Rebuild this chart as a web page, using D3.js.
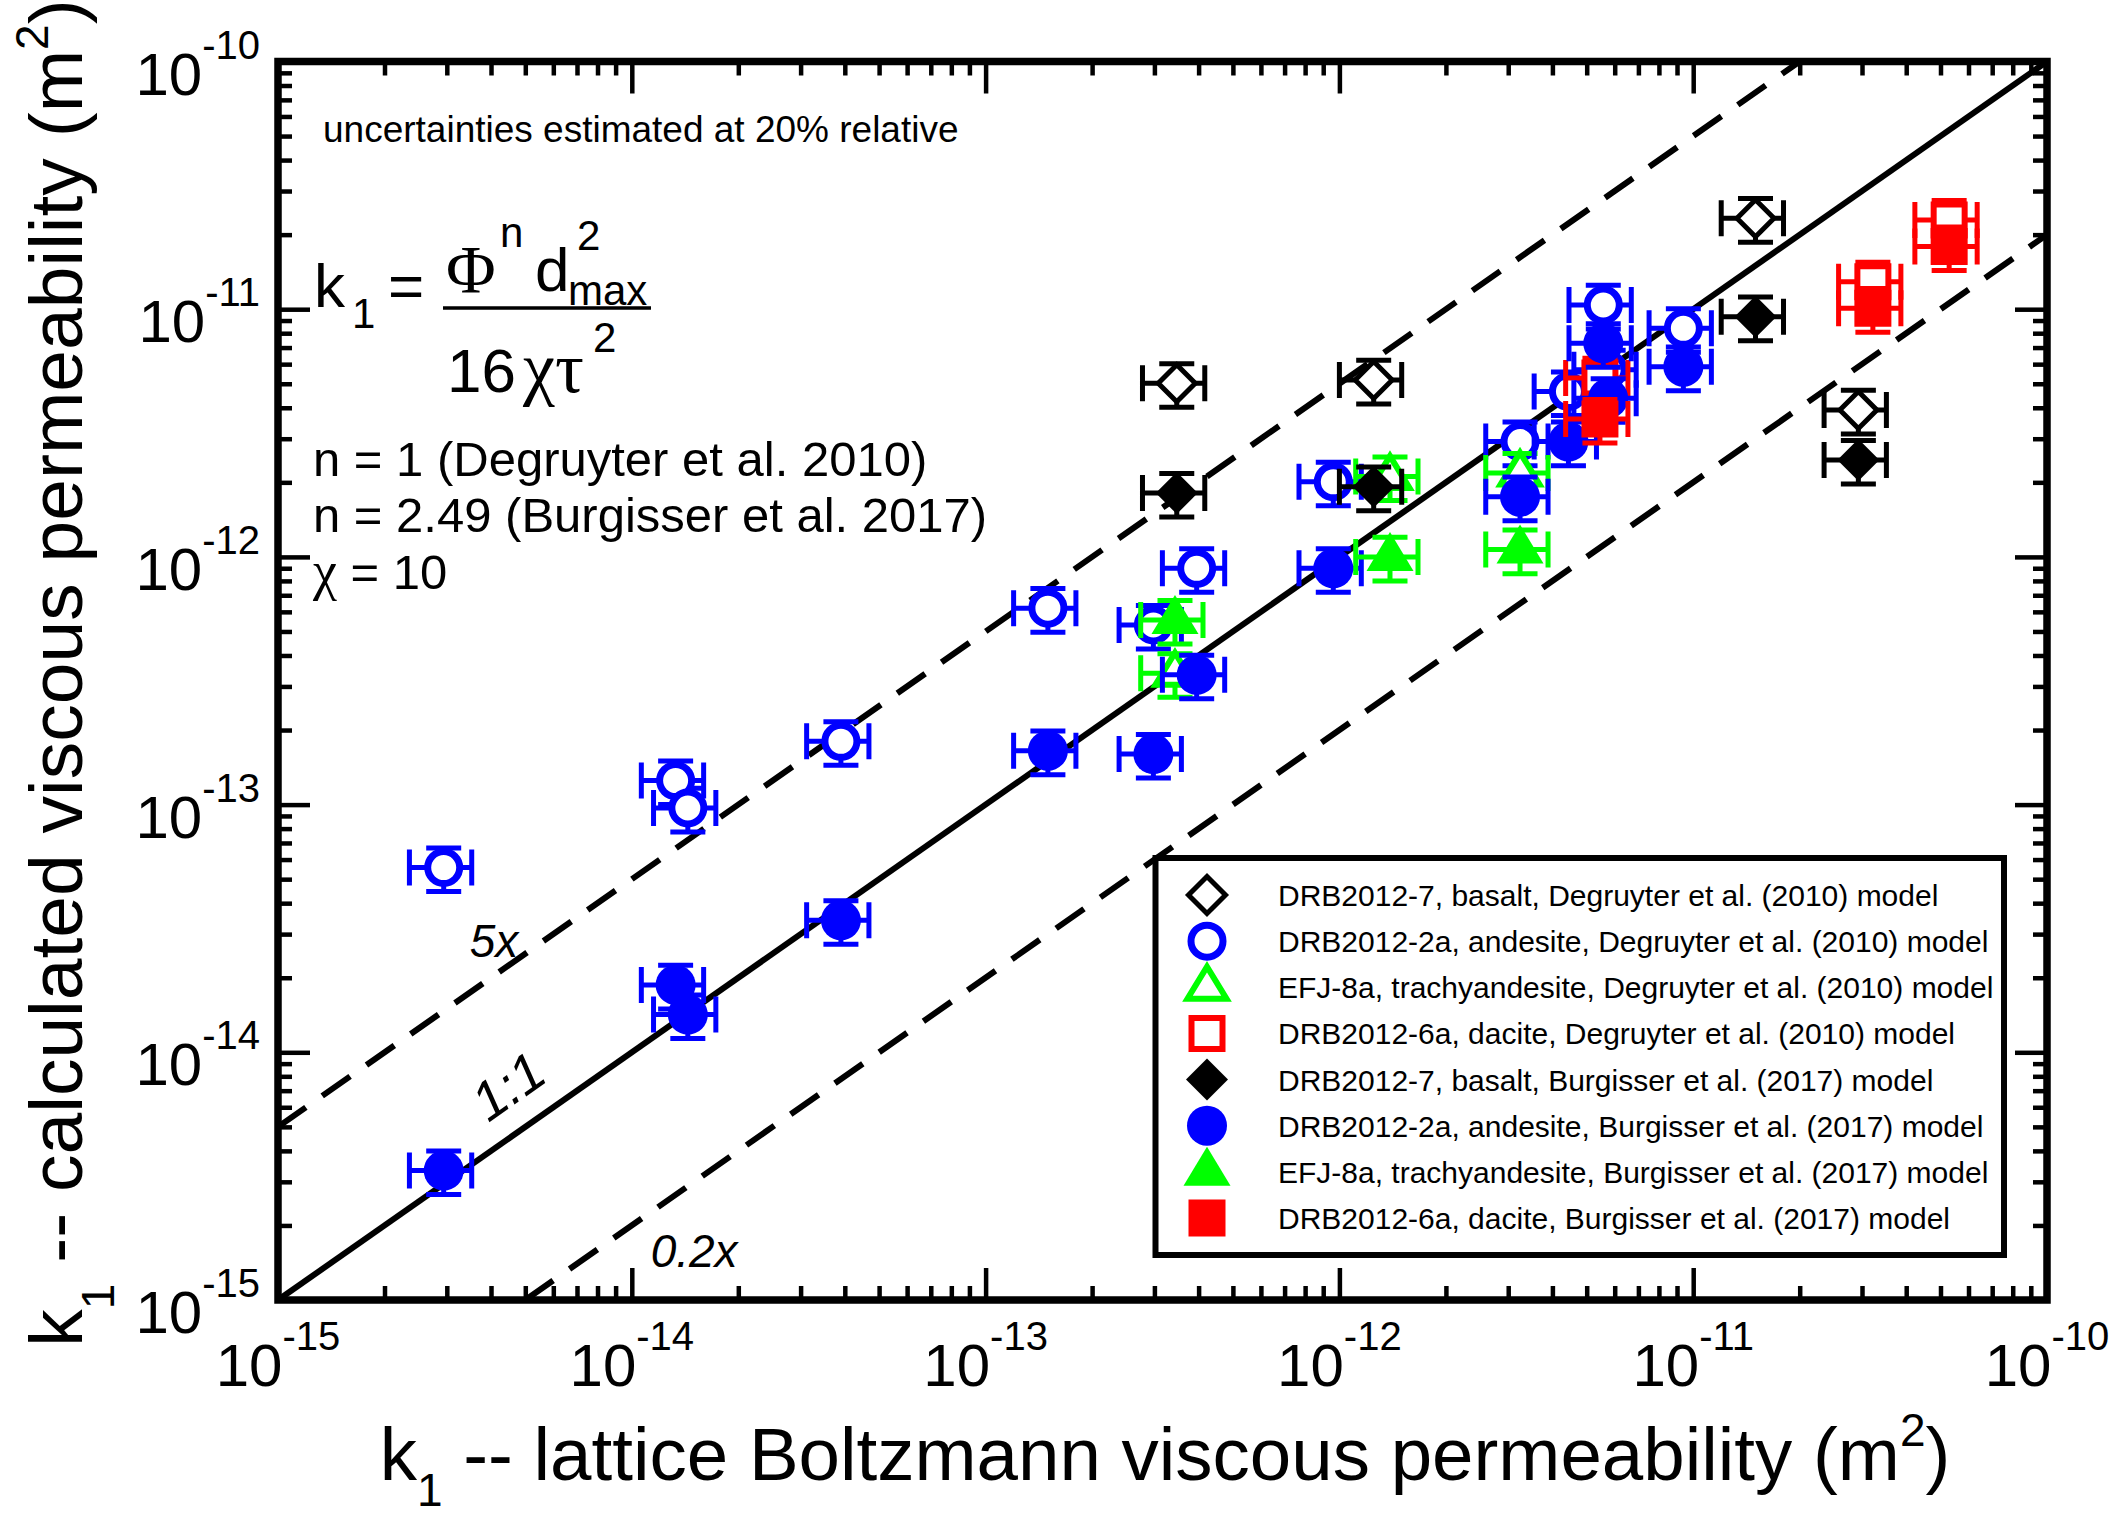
<!DOCTYPE html>
<html>
<head>
<meta charset="utf-8">
<script src="https://cdn.jsdelivr.net/npm/d3@7"></script>
<style>
  body { margin: 0; background: #fff; }
  svg { display: block; }
  text { font-family: "Liberation Sans", Arial, Helvetica, sans-serif; fill: #000; }
  .serif { font-family: "Liberation Serif", "Times New Roman", serif; }
</style>
</head>
<body>
<svg id="chart" width="2112" height="1516"></svg>
<script>
// ---- axis decades and their exponent labels ----
const decades = [1e-15, 1e-14, 1e-13, 1e-12, 1e-11, 1e-10];
const decadeExponents = ["-15", "-14", "-13", "-12", "-11", "-10"];

// ---- permeabilities, m^2: lattice Boltzmann (x) vs. model (y) ----
// DRB2012-7, basalt
const basaltLB        = [3.47e-13, 1.25e-12, 1.50e-11, 2.93e-11];
const basaltDegruyter = [5.02e-12, 5.18e-12, 2.33e-11, 3.92e-12];
const basaltBurgisser = [1.81e-12, 1.92e-12, 9.33e-12, 2.46e-12];

// DRB2012-2a, andesite
const andesiteLB        = [2.94e-15, 1.33e-14, 1.44e-14, 3.90e-14, 1.50e-13, 2.98e-13, 3.95e-13,
                           9.61e-13, 3.24e-12, 4.44e-12, 5.57e-12, 5.75e-12, 9.38e-12];
const andesiteDegruyter = [5.57e-14, 1.25e-13, 9.69e-14, 1.80e-13, 6.21e-13, 5.31e-13, 8.99e-13,
                           2.01e-12, 2.92e-12, 4.65e-12, 1.04e-11, 5.69e-12, 8.37e-12];
const andesiteBurgisser = [3.33e-15, 1.87e-14, 1.42e-14, 3.41e-14, 1.65e-13, 1.60e-13, 3.34e-13,
                           8.99e-13, 1.75e-12, 2.92e-12, 7.28e-12, 4.37e-12, 5.86e-12];

// EFJ-8a, trachyandesite
const trachyLB        = [3.43e-13, 1.39e-12, 3.24e-12];
const trachyDegruyter = [3.39e-13, 2.11e-12, 2.18e-12];
const trachyBurgisser = [5.56e-13, 1.00e-12, 1.07e-12];

// DRB2012-6a, dacite
const daciteLB        = [5.45e-12, 3.22e-11, 5.29e-11];
const daciteDegruyter = [5.28e-12, 1.29e-11, 2.29e-11];
const daciteBurgisser = [3.60e-12, 1.01e-11, 1.79e-11];

// relative uncertainty shown by the error bars
const relErr = 0.2;

// reference lines: model = factor * lattice Boltzmann
const refFactors = [1, 5, 0.2];
const refLabels  = ["1:1", "5x", "0.2x"];

const legendLabels = [
  "DRB2012-7, basalt, Degruyter et al. (2010) model",
  "DRB2012-2a, andesite, Degruyter et al. (2010) model",
  "EFJ-8a, trachyandesite, Degruyter et al. (2010) model",
  "DRB2012-6a, dacite, Degruyter et al. (2010) model",
  "DRB2012-7, basalt, Burgisser et al. (2017) model",
  "DRB2012-2a, andesite, Burgisser et al. (2017) model",
  "EFJ-8a, trachyandesite, Burgisser et al. (2017) model",
  "DRB2012-6a, dacite, Burgisser et al. (2017) model"
];

// ---- series table (drawing order = legend order) ----
const series = [
  { xs: basaltLB,   ys: basaltDegruyter,   shape: "diamond",  color: "#000000", filled: false },
  { xs: andesiteLB, ys: andesiteDegruyter, shape: "circle",   color: "#0000ff", filled: false },
  { xs: trachyLB,   ys: trachyDegruyter,   shape: "triangle", color: "#00ff00", filled: false },
  { xs: daciteLB,   ys: daciteDegruyter,   shape: "square",   color: "#ff0000", filled: false },
  { xs: basaltLB,   ys: basaltBurgisser,   shape: "diamond",  color: "#000000", filled: true },
  { xs: andesiteLB, ys: andesiteBurgisser, shape: "circle",   color: "#0000ff", filled: true },
  { xs: trachyLB,   ys: trachyBurgisser,   shape: "triangle", color: "#00ff00", filled: true },
  { xs: daciteLB,   ys: daciteBurgisser,   shape: "square",   color: "#ff0000", filled: true }
].map((s, i) => ({ ...s, label: legendLabels[i],
  points: s.xs.map((x, j) => ({ x, y: s.ys[j] })) }));

// ---- layout ----
const svg = d3.select("#chart");
const plot = { left: 278, right: 2047, top: 61.5, bottom: 1300 };

const x = d3.scaleLog().domain([1e-15, 1e-10]).range([plot.left, plot.right]);
const y = d3.scaleLog().domain([1e-15, 1e-10]).range([plot.bottom, plot.top]);

svg.append("rect").attr("width", 2112).attr("height", 1516).attr("fill", "#fff");

svg.append("defs").append("clipPath").attr("id", "plotClip")
  .append("rect")
  .attr("x", plot.left).attr("y", plot.top)
  .attr("width", plot.right - plot.left).attr("height", plot.bottom - plot.top);

// ---- reference lines ----
const lineGen = d3.line().x(d => x(d[0])).y(d => y(d[1]));
const refG = svg.append("g").attr("clip-path", "url(#plotClip)");
refFactors.forEach(f => {
  const x0 = Math.max(1e-15, 1e-15 / f), x1 = Math.min(1e-10, 1e-10 / f);
  refG.append("path")
    .attr("d", lineGen([[x0, f * x0], [x1, f * x1]]))
    .attr("fill", "none")
    .attr("stroke", "#000")
    .attr("stroke-width", 6)
    .attr("stroke-dasharray", f === 1 ? null : "34,20");
});

// line labels (centre of each label in data space)
const refLabelPos = [
  { at: [4.47e-15, 7.31e-15], rot: -35, size: 54 },  // 1:1
  { at: [4.08e-15, 2.81e-14], rot: 0,   size: 46 },  // 5x
  { at: [1.50e-14, 1.58e-15], rot: 0,   size: 46 }   // 0.2x
];
refLabels.forEach((t, i) => {
  const p = refLabelPos[i];
  svg.append("text")
    .attr("transform", `translate(${x(p.at[0])},${y(p.at[1])}) rotate(${p.rot})`)
    .attr("text-anchor", "middle")
    .attr("dy", "0.35em")
    .attr("font-size", p.size)
    .attr("font-style", "italic")
    .text(t);
});

// ---- axes: inward minor and major ticks on all four sides ----
const minorTicks = [];
decades.slice(0, -1).forEach(d => { for (let m = 2; m <= 9; m++) minorTicks.push(m * d); });

function addTicks(axisFn, scale, transform) {
  [[minorTicks, 14], [decades, 32]].forEach(([vals, len]) => {
    const g = svg.append("g")
      .attr("transform", transform)
      .call(axisFn(scale).tickValues(vals).tickSize(-len).tickFormat(""));
    g.select(".domain").remove();
    g.selectAll(".tick line").attr("stroke", "#000").attr("stroke-width", 4.5);
  });
}
addTicks(d3.axisBottom, x, `translate(0,${plot.bottom})`);
addTicks(d3.axisTop,    x, `translate(0,${plot.top})`);
addTicks(d3.axisLeft,   y, `translate(${plot.left},0)`);
addTicks(d3.axisRight,  y, `translate(${plot.right},0)`);

// frame
svg.append("rect")
  .attr("x", plot.left).attr("y", plot.top)
  .attr("width", plot.right - plot.left).attr("height", plot.bottom - plot.top)
  .attr("fill", "none").attr("stroke", "#000").attr("stroke-width", 7.5);

// power-of-ten tick labels
function powerLabel(sel) {
  sel.append("tspan").attr("font-size", 60).text("10");
  sel.append("tspan").attr("font-size", 40).attr("dy", -36).text((d, i) => decadeExponents[i]);
}
svg.append("g").selectAll("text").data(decades).join("text")
  .attr("x", d => x(d)).attr("y", plot.bottom + 86)
  .attr("text-anchor", "middle")
  .call(powerLabel);
svg.append("g").selectAll("text").data(decades).join("text")
  .attr("x", plot.left - 18).attr("y", d => y(d) + 33)
  .attr("text-anchor", "end")
  .call(powerLabel);

// axis titles
const xTitle = svg.append("text")
  .attr("x", 1165).attr("y", 1480)
  .attr("text-anchor", "middle").attr("font-size", 74.5);
xTitle.append("tspan").text("k");
xTitle.append("tspan").attr("font-size", 46).attr("dy", 26).text("1");
xTitle.append("tspan").attr("dy", -26).text(" -- lattice Boltzmann viscous permeability (m");
xTitle.append("tspan").attr("font-size", 46).attr("dy", -34).text("2");
xTitle.append("tspan").attr("dy", 34).text(")");

const yTitle = svg.append("text")
  .attr("transform", "translate(82,673) rotate(-90)")
  .attr("text-anchor", "middle").attr("font-size", 75);
yTitle.append("tspan").text("k");
yTitle.append("tspan").attr("font-size", 46).attr("dy", 32).text("1");
yTitle.append("tspan").attr("dy", -32).text(" -- calculated viscous permeability (m");
yTitle.append("tspan").attr("font-size", 46).attr("dy", -34).text("2");
yTitle.append("tspan").attr("dy", 34).text(")");

// ---- annotations ----
svg.append("text").attr("x", 323).attr("y", 142).attr("font-size", 37)
  .text("uncertainties estimated at 20% relative");

const eq = svg.append("g");
eq.append("text").attr("x", 314).attr("y", 307).attr("font-size", 62).text("k");
eq.append("text").attr("x", 352).attr("y", 328).attr("font-size", 42).text("1");
eq.append("text").attr("x", 388).attr("y", 307).attr("font-size", 62).text("=");
eq.append("line").attr("x1", 443).attr("x2", 651).attr("y1", 308).attr("y2", 308)
  .attr("stroke", "#000").attr("stroke-width", 3.5);
eq.append("text").attr("class", "serif").attr("x", 446).attr("y", 292).attr("font-size", 68).text("Φ");
eq.append("text").attr("x", 500).attr("y", 247).attr("font-size", 42).text("n");
eq.append("text").attr("x", 535).attr("y", 291).attr("font-size", 62).text("d");
eq.append("text").attr("x", 577).attr("y", 250).attr("font-size", 42).text("2");
eq.append("text").attr("x", 568).attr("y", 305).attr("font-size", 42).text("max");
eq.append("text").attr("x", 447).attr("y", 392).attr("font-size", 62).text("16");
eq.append("text").attr("class", "serif").attr("x", 523).attr("y", 392).attr("font-size", 72).text("χτ");
eq.append("text").attr("x", 593).attr("y", 352).attr("font-size", 42).text("2");

const notes = ["n = 1 (Degruyter et al. 2010)", "n = 2.49 (Burgisser et al. 2017)"];
svg.append("g").selectAll("text").data(notes).join("text")
  .attr("x", 313).attr("y", (d, i) => 476 + i * 56)
  .attr("font-size", 49).text(d => d);
const chi = svg.append("text").attr("x", 313).attr("y", 589).attr("font-size", 49);
chi.append("tspan").attr("class", "serif").attr("font-size", 54).text("χ");
chi.append("tspan").text(" = 10");

// ---- marker shapes ----
function shapePath(shape, filled) {
  if (shape === "diamond") {
    const h = filled ? 21 : 18.5;
    return `M0,${-h}L${h},0L0,${h}L${-h},0Z`;
  }
  if (shape === "triangle") {
    return filled ? "M0,-25L23.5,14L-23.5,14Z" : "M0,-20.5L19.5,11.5L-19.5,11.5Z";
  }
  if (shape === "square") {
    const h = filled ? 18.5 : 15.5;
    return `M${-h},${-h}H${h}V${h}H${-h}Z`;
  }
  return null;
}
function drawMarker(g, s) {
  if (s.shape === "circle") {
    g.append("circle")
      .attr("r", s.filled ? 20 : 16)
      .attr("fill", s.filled ? s.color : "#fff")
      .attr("stroke", s.filled ? "none" : s.color)
      .attr("stroke-width", 7);
  } else {
    g.append("path")
      .attr("d", shapePath(s.shape, s.filled))
      .attr("fill", s.filled ? s.color : "#fff")
      .attr("stroke", s.filled ? "none" : s.color)
      .attr("stroke-width", s.shape === "diamond" ? 5 : 6)
      .attr("stroke-linejoin", "miter");
  }
}

// ---- data: error bars then markers, series by series ----
const capH = 18, capV = 17.5;
series.forEach(s => {
  const g = svg.append("g");
  g.selectAll("g.eb").data(s.points).join("g").attr("class", "eb")
    .attr("stroke", s.color).attr("stroke-width", 5).attr("fill", "none")
    .append("path").attr("d", d => {
      const xl = x(d.x * (1 - relErr)), xr = x(d.x * (1 + relErr)), yc = y(d.y);
      const yb = y(d.y * (1 - relErr)), yt = y(d.y * (1 + relErr)), xc = x(d.x);
      return `M${xl},${yc}H${xr}` +
             `M${xl},${yc - capH}V${yc + capH}M${xr},${yc - capH}V${yc + capH}` +
             `M${xc},${yb}V${yt}` +
             `M${xc - capV},${yb}H${xc + capV}M${xc - capV},${yt}H${xc + capV}`;
    });
  g.selectAll("g.mk").data(s.points).join("g").attr("class", "mk")
    .attr("transform", d => `translate(${x(d.x)},${y(d.y)})`)
    .each(function () { drawMarker(d3.select(this), s); });
});

// ---- legend ----
const legend = { x: 1155.5, y: 858, w: 848.5, h: 397 };
svg.append("rect")
  .attr("x", legend.x).attr("y", legend.y).attr("width", legend.w).attr("height", legend.h)
  .attr("fill", "#fff").attr("stroke", "#000").attr("stroke-width", 6);
const rowY = d3.scalePoint().domain(d3.range(series.length)).range([895, 1218]);
const rows = svg.append("g").selectAll("g").data(series).join("g")
  .attr("transform", (d, i) => `translate(0,${rowY(i)})`);
rows.append("g").attr("transform", "translate(1207,0)")
  .each(function (s) { drawMarker(d3.select(this), s); });
rows.append("text").attr("x", 1278).attr("y", 11).attr("font-size", 30).text(d => d.label);
</script>
</body>
</html>
